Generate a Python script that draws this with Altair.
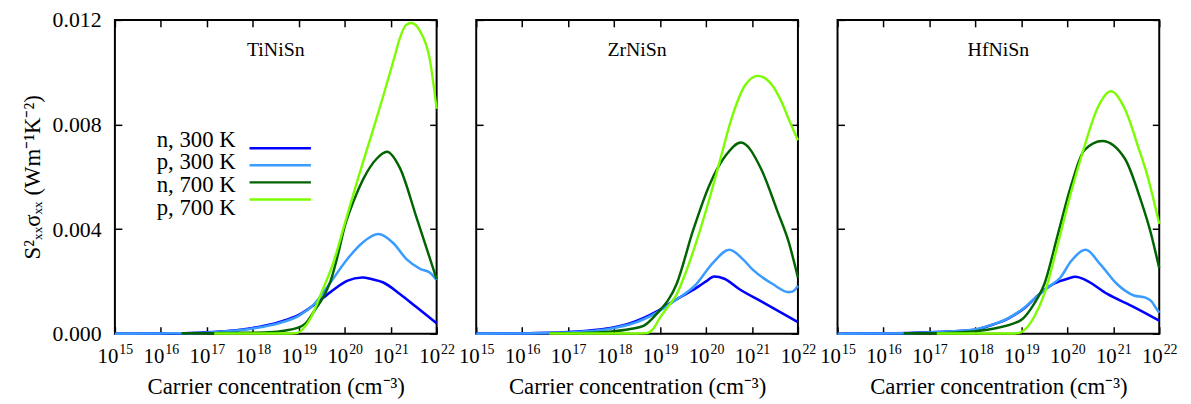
import altair as alt
import pandas as pd

SERIES = ["n, 300 K", "p, 300 K", "n, 700 K", "p, 700 K"]
COLORS = ["#0000ff", "#3a9cff", "#006400", "#7cfc00"]
LINE_WIDTHS = [2.6, 2.4, 2.2, 2.0]
PANELS = ["TiNiSn", "ZrNiSn", "HfNiSn"]
X_TICK_EXPONENTS = [15, 16, 17, 18, 19, 20, 21, 22]
Y_TICKS = [0.0, 0.004, 0.008, 0.012]
Y_LABEL = "S²ₓₓσₓₓ (Wm⁻¹K⁻²)"
X_LABEL = "Carrier concentration (cm⁻³)"

# ---- TiNiSn (log10 of carrier concentration, power factor) ----
ti_n300_e = [15.0, 16.0, 16.5, 17.0, 17.5, 18.0, 18.3, 18.6, 19.0, 19.33, 19.69, 20.05, 20.38, 20.6, 20.84, 21.2, 21.56, 22.0]
ti_n300_v = [0.0, 0.00001, 0.00002, 0.00005, 0.00011, 0.00022, 0.00032, 0.00046, 0.00072, 0.0011, 0.00159, 0.00202, 0.00215, 0.00208, 0.00196, 0.00152, 0.00102, 0.0004]
ti_p300_e = [15.0, 16.0, 17.0, 17.5, 18.0, 18.6, 19.0, 19.33, 19.69, 20.05, 20.4, 20.73, 21.06, 21.35, 21.64, 21.85, 22.0]
ti_p300_v = [0.0, 0.00001, 0.00004, 0.0001, 0.0002, 0.00042, 0.00068, 0.00112, 0.00196, 0.00284, 0.0035, 0.00381, 0.00346, 0.00284, 0.00248, 0.00234, 0.00205]
ti_n700_e = [16.45, 17.0, 17.5, 18.0, 18.25, 18.61, 18.97, 19.15, 19.33, 19.55, 19.69, 19.85, 20.0, 20.2, 20.4, 20.7, 20.92, 21.2, 21.56, 22.0]
ti_n700_v = [0.00002, 0.00002, 0.00003, 0.00004, 0.00005, 0.0001, 0.00022, 0.0004, 0.00085, 0.00145, 0.002, 0.003, 0.0041, 0.0051, 0.0059, 0.0067, 0.00696, 0.00634, 0.00446, 0.00209]
ti_p700_e = [17.16, 17.5, 18.0, 18.5, 18.8, 18.97, 19.1, 19.26, 19.5, 19.75, 20.0, 20.3, 20.6, 20.84, 21.07, 21.2, 21.33, 21.45, 21.63, 21.85, 22.0]
ti_p700_v = [0.00001, 0.00001, 0.00001, 0.00001, 0.00001, 0.00003, 0.0002, 0.0006, 0.0016, 0.0027, 0.0042, 0.006, 0.0077, 0.0091, 0.0105, 0.0113, 0.0118, 0.01188, 0.0116, 0.0105, 0.0086]

# ---- ZrNiSn ----
zr_n300_e = [15.0, 16.0, 17.0, 17.63, 18.0, 18.35, 18.92, 19.32, 19.79, 20.0, 20.18, 20.4, 20.72, 21.23, 22.0]
zr_n300_v = [0.0, 0.00001, 0.00006, 0.00015, 0.00025, 0.0004, 0.00084, 0.00128, 0.00175, 0.002, 0.00219, 0.0021, 0.00171, 0.00121, 0.00044]
zr_p300_e = [15.0, 16.0, 17.0, 17.63, 18.0, 18.35, 18.92, 19.32, 19.79, 20.15, 20.51, 20.8, 21.01, 21.45, 21.8, 21.9, 22.0]
zr_p300_v = [0.0, 0.00001, 0.00005, 0.00012, 0.00022, 0.00036, 0.0008, 0.00126, 0.0019, 0.00271, 0.00321, 0.00285, 0.00246, 0.0019, 0.00159, 0.00163, 0.00184]
zr_n700_e = [16.59, 17.0, 17.5, 17.9, 18.35, 18.64, 18.92, 19.36, 19.72, 20.08, 20.44, 20.76, 21.2, 21.55, 21.8, 22.0]
zr_n700_v = [0.00002, 0.00002, 0.00004, 0.00008, 0.00018, 0.0003, 0.00075, 0.0019, 0.00396, 0.00571, 0.00684, 0.00731, 0.0063, 0.0047, 0.0035, 0.00215]
zr_p700_e = [16.59, 17.0, 17.5, 18.0, 18.5, 18.7, 18.85, 19.0, 19.2, 19.36, 19.55, 19.75, 20.08, 20.3, 20.55, 20.85, 21.13, 21.44, 21.66, 21.8, 22.0]
zr_p700_v = [0.00001, 0.00001, 0.00001, 0.00001, 0.00001, 0.00002, 0.00018, 0.00062, 0.0011, 0.0015, 0.0023, 0.0033, 0.0052, 0.0066, 0.0082, 0.0095, 0.00986, 0.0095, 0.0088, 0.0082, 0.0074]

# ---- HfNiSn ----
hf_n300_e = [15.0, 16.0, 17.0, 17.5, 17.99, 18.35, 18.71, 19.07, 19.32, 19.6, 19.85, 20.0, 20.18, 20.4, 20.87, 21.45, 22.0]
hf_n300_v = [0.0, 0.00001, 0.00005, 0.00009, 0.00015, 0.00033, 0.00058, 0.00098, 0.0014, 0.0018, 0.00202, 0.0021, 0.00218, 0.00205, 0.00152, 0.00102, 0.0005]
hf_p300_e = [15.0, 16.0, 17.0, 17.5, 17.99, 18.35, 18.71, 19.07, 19.32, 19.6, 19.85, 20.08, 20.4, 20.72, 21.08, 21.45, 21.7, 21.84, 21.92, 22.0]
hf_p300_v = [0.0, 0.00001, 0.00005, 0.00009, 0.00016, 0.00034, 0.00059, 0.001, 0.0014, 0.0018, 0.00215, 0.00277, 0.00321, 0.00265, 0.0019, 0.00146, 0.00138, 0.00122, 0.001, 0.0008]
hf_n700_e = [16.44, 17.0, 17.5, 18.0, 18.35, 18.99, 19.28, 19.5, 19.79, 20.08, 20.37, 20.76, 21.25, 21.6, 21.8, 22.0]
hf_n700_v = [0.00002, 0.00002, 0.00004, 0.0001, 0.00018, 0.00052, 0.00115, 0.0019, 0.00377, 0.00565, 0.00702, 0.00737, 0.0067, 0.0051, 0.00396, 0.0025]
hf_p700_e = [17.16, 17.5, 18.0, 18.5, 18.85, 18.95, 19.05, 19.28, 19.5, 19.79, 20.08, 20.37, 20.65, 20.95, 21.25, 21.55, 21.75, 22.0]
hf_p700_v = [0.00001, 0.00001, 0.00001, 0.00001, 0.00001, 0.00003, 0.00012, 0.00065, 0.00152, 0.0034, 0.0054, 0.00715, 0.0086, 0.00927, 0.0086, 0.0071, 0.006, 0.0042]

PANEL_DATA = [
    [(ti_n300_e, ti_n300_v), (ti_p300_e, ti_p300_v), (ti_n700_e, ti_n700_v), (ti_p700_e, ti_p700_v)],
    [(zr_n300_e, zr_n300_v), (zr_p300_e, zr_p300_v), (zr_n700_e, zr_n700_v), (zr_p700_e, zr_p700_v)],
    [(hf_n300_e, hf_n300_v), (hf_p300_e, hf_p300_v), (hf_n700_e, hf_n700_v), (hf_p700_e, hf_p700_v)],
]

W, H = 325, 317
FONT = "Liberation Serif"
FS_TICK = 22
FS_XTICK = 21
FS_TITLE = 23
FS_NAME = 20
FS_LEGEND = 23

x_ticks = [10.0 ** e for e in X_TICK_EXPONENTS]


def build_df(i):
    rows = []
    for name, (es, vs) in zip(SERIES, PANEL_DATA[i]):
        for e, v in zip(es, vs):
            rows.append({"series": name, "conc": 10.0 ** e, "val": v})
    return pd.DataFrame(rows)


def xs():
    return alt.Scale(type="log", domain=[x_ticks[0], x_ticks[-1]], nice=False)


def ys():
    return alt.Scale(domain=[Y_TICKS[0], Y_TICKS[-1]], nice=False, zero=False)


def color_scale():
    return alt.Scale(domain=SERIES, range=COLORS)


def tick_axis(orient, values, offset):
    return alt.Axis(orient=orient, offset=offset, values=values, labels=False,
                    domain=False, grid=False, ticks=True, tickSize=7,
                    tickWidth=1.5, tickColor="black", title=None)


def panel(i):
    df = build_df(i)
    main_x = alt.Axis(orient="bottom", values=x_ticks, labelExpr="'10'",
                      labelAlign="right", labelOffset=3, labelFont=FONT,
                      labelFontSize=FS_XTICK, labelPadding=12, labelFlush=False,
                      labelOverlap=False, labelColor="black", ticks=False,
                      domain=False, grid=False, title=X_LABEL, titleFont=FONT,
                      titleFontSize=FS_TITLE, titleFontWeight="normal",
                      titlePadding=9, titleColor="black")
    exp_x = alt.Axis(orient="bottom", values=x_ticks,
                     labelExpr="format(round(log(datum.value)/LN10), 'd')",
                     labelAlign="left", labelOffset=4, labelFont=FONT,
                     labelFontSize=14, labelPadding=9, labelFlush=False,
                     labelOverlap=False, labelColor="black", ticks=False,
                     domain=False, grid=False, title=None)
    if i == 0:
        main_y = alt.Axis(orient="left", values=Y_TICKS, format=".3f",
                          labelFont=FONT, labelFontSize=FS_TICK, labelPadding=14,
                          labelColor="black", ticks=False, domain=False,
                          grid=False, title=Y_LABEL, titleFont=FONT,
                          titleFontSize=FS_TITLE, titleFontWeight="normal",
                          titlePadding=8, titleColor="black")
    else:
        main_y = None

    lines = alt.Chart(df).mark_line(interpolate="monotone").encode(
        x=alt.X("conc:Q", scale=xs(), axis=main_x),
        y=alt.Y("val:Q", scale=ys(), axis=main_y),
        color=alt.Color("series:N", scale=color_scale(), legend=None, sort=SERIES),
        strokeWidth=alt.StrokeWidth("series:N",
                                    scale=alt.Scale(domain=SERIES, range=LINE_WIDTHS),
                                    legend=None),
    )

    tdf = pd.DataFrame({"name": [PANELS[i]], "tx": [10.0 ** 18.5], "ty": [0.01084]})
    name = alt.Chart(tdf).mark_text(font=FONT, fontSize=FS_NAME, color="black",
                                    baseline="middle").encode(
        x=alt.X("tx:Q", scale=xs(), axis=exp_x),
        y=alt.Y("ty:Q", scale=ys(), axis=None),
        text="name:N",
    )

    t1 = alt.Chart(df).mark_line(opacity=0).encode(
        x=alt.X("conc:Q", scale=xs(), axis=tick_axis("top", x_ticks, -H)),
        y=alt.Y("val:Q", scale=ys(), axis=tick_axis("right", Y_TICKS, -W)),
    )
    t2 = alt.Chart(df).mark_line(opacity=0).encode(
        x=alt.X("conc:Q", scale=xs(), axis=tick_axis("bottom", x_ticks, -H)),
        y=alt.Y("val:Q", scale=ys(), axis=tick_axis("left", Y_TICKS, -W)),
    )

    layers = [lines, name, t1, t2]

    if i == 0:
        ldf = pd.DataFrame({"series": SERIES})
        row_y = alt.Y("series:N", axis=None, sort=SERIES,
                      scale=alt.Scale(domain=SERIES, range=[121, 190], padding=0))
        leg_lines = alt.Chart(ldf).mark_rule(strokeWidth=2.5).encode(
            x=alt.value(136), x2=alt.value(198), y=row_y,
            color=alt.Color("series:N", scale=color_scale(), legend=None),
        )
        leg_text = alt.Chart(ldf).mark_text(font=FONT, fontSize=FS_LEGEND,
                                            color="black", align="right",
                                            baseline="middle").encode(
            x=alt.value(122), y=row_y, text="series:N",
        )
        layers += [leg_lines, leg_text]

    return alt.layer(*layers).resolve_axis(
        x="independent", y="independent").resolve_scale(
        y="independent").properties(width=W, height=H)


chart = alt.hconcat(panel(0), panel(1), panel(2), spacing=40, bounds="flush").properties(
    padding={"left": 12, "top": -2, "right": 5, "bottom": 5}).configure_view(
    stroke="black", strokeWidth=2)

chart.save("out.html", embed_options={"renderer": "svg", "actions": False})
